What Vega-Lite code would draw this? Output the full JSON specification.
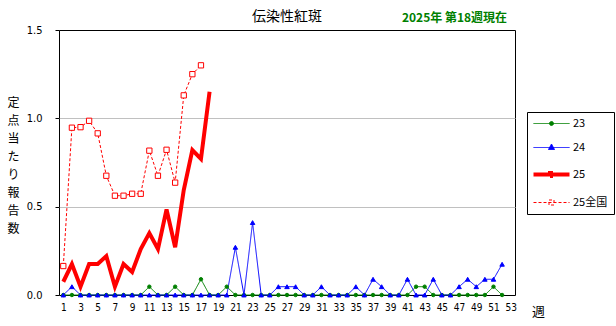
{
  "$schema": "https://vega.github.io/schema/vega-lite/v6.json",
  "width": 456,
  "height": 265,
  "autosize": {"type": "none"},
  "padding": {"left": 59, "top": 30, "right": 101, "bottom": 31},
  "background": "white",
  "title": {"text": "伝染性紅斑", "anchor": "middle", "font": "Noto Sans CJK JP", "fontSize": 14, "fontWeight": "normal", "color": "black", "offset": 7, "dy": 20},
  "data": {"values": [
    {"w": 1, "23": 0, "24": 0, "25": 0.075, "25全国": 0.164},
    {"w": 2, "23": 0, "24": 0.047, "25": 0.175, "25全国": 0.947},
    {"w": 3, "23": 0, "24": 0, "25": 0.047, "25全国": 0.95},
    {"w": 4, "23": 0, "24": 0, "25": 0.175, "25全国": 0.986},
    {"w": 5, "23": 0, "24": 0, "25": 0.175, "25全国": 0.915},
    {"w": 6, "23": 0, "24": 0, "25": 0.22, "25全国": 0.675},
    {"w": 7, "23": 0, "24": 0, "25": 0.047, "25全国": 0.562},
    {"w": 8, "23": 0, "24": 0, "25": 0.175, "25全国": 0.562},
    {"w": 9, "23": 0, "24": 0, "25": 0.13, "25全国": 0.573},
    {"w": 10, "23": 0, "24": 0, "25": 0.26, "25全国": 0.573},
    {"w": 11, "23": 0.047, "24": 0, "25": 0.35, "25全国": 0.817},
    {"w": 12, "23": 0, "24": 0, "25": 0.26, "25全国": 0.675},
    {"w": 13, "23": 0, "24": 0, "25": 0.485, "25全国": 0.822},
    {"w": 14, "23": 0.047, "24": 0, "25": 0.27, "25全国": 0.636},
    {"w": 15, "23": 0, "24": 0, "25": 0.594, "25全国": 1.13},
    {"w": 16, "23": 0, "24": 0, "25": 0.82, "25全国": 1.25},
    {"w": 17, "23": 0.089, "24": 0, "25": 0.77, "25全国": 1.30},
    {"w": 18, "23": 0, "24": 0, "25": 1.15},
    {"w": 19, "23": 0, "24": 0},
    {"w": 20, "23": 0.047, "24": 0},
    {"w": 21, "23": 0, "24": 0.27},
    {"w": 22, "23": 0, "24": 0},
    {"w": 23, "23": 0, "24": 0.41},
    {"w": 24, "23": 0, "24": 0},
    {"w": 25, "23": 0, "24": 0},
    {"w": 26, "23": 0, "24": 0.047},
    {"w": 27, "23": 0, "24": 0.047},
    {"w": 28, "23": 0, "24": 0.047},
    {"w": 29, "23": 0, "24": 0},
    {"w": 30, "23": 0, "24": 0},
    {"w": 31, "23": 0, "24": 0.047},
    {"w": 32, "23": 0, "24": 0},
    {"w": 33, "23": 0, "24": 0},
    {"w": 34, "23": 0, "24": 0},
    {"w": 35, "23": 0, "24": 0.047},
    {"w": 36, "23": 0, "24": 0},
    {"w": 37, "23": 0, "24": 0.089},
    {"w": 38, "23": 0, "24": 0.047},
    {"w": 39, "23": 0, "24": 0},
    {"w": 40, "23": 0, "24": 0},
    {"w": 41, "23": 0, "24": 0.089},
    {"w": 42, "23": 0.047, "24": 0},
    {"w": 43, "23": 0.047, "24": 0},
    {"w": 44, "23": 0, "24": 0.089},
    {"w": 45, "23": 0, "24": 0},
    {"w": 46, "23": 0, "24": 0},
    {"w": 47, "23": 0, "24": 0.047},
    {"w": 48, "23": 0, "24": 0.089},
    {"w": 49, "23": 0, "24": 0.047},
    {"w": 50, "23": 0, "24": 0.089},
    {"w": 51, "23": 0.047, "24": 0.089},
    {"w": 52, "23": 0, "24": 0.174}
  ]},
  "transform": [
    {"fold": ["23", "24", "25", "25全国"], "as": ["s", "v"]},
    {"filter": "isValid(datum.v)"}
  ],
  "resolve": {"axis": {"x": "independent"}},
  "layer": [
    {
      "transform": [{"filter": "datum.s !== '25'"}],
      "mark": {"type": "line", "strokeWidth": 1},
      "encoding": {
        "x": {
          "field": "w", "type": "quantitative",
          "scale": {"domain": [0.5, 53.5], "nice": false, "zero": false},
          "axis": {
            "orient": "bottom",
            "values": [1,3,5,7,9,11,13,15,17,19,21,23,25,27,29,31,33,35,37,39,41,43,45,47,49,51,53],
            "ticks": false, "domain": false, "grid": false,
            "labelPadding": 7, "labelFontSize": 10, "labelFont": "Liberation Sans Narrow, DejaVu Sans Condensed, Liberation Sans",
            "labelColor": "black", "labelFlush": false, "labelOverlap": false,
            "title": "週", "titleX": 479, "titleY": 16, "titleAlign": "center", "titleBaseline": "middle",
            "titleFontSize": 13, "titleFont": "Noto Sans CJK JP", "titleFontWeight": "normal", "titleColor": "black"
          }
        },
        "y": {
          "field": "v", "type": "quantitative",
          "scale": {"domain": [0, 1.5], "nice": false},
          "axis": {
            "orient": "left",
            "values": [0, 0.5, 1, 1.5], "format": ".1f",
            "domain": false, "ticks": true, "tickSize": 4, "tickColor": "black",
            "labelPadding": 13, "labelFontSize": 11, "labelFont": "Liberation Sans Narrow, DejaVu Sans Condensed, Liberation Sans",
            "labelColor": "black",
            "grid": true,
            "gridColor": {"condition": {"test": "datum.value === 0 || datum.value === 1.5", "value": "transparent"}, "value": "#c0c0c0"},
            "title": ["定", "点", "当", "た", "り", "報", "告", "数"],
            "titleAngle": 0, "titleX": -46, "titleY": 67, "titleAlign": "center", "titleBaseline": "top",
            "titleLineHeight": 18, "titleFontSize": 12, "titleFont": "Noto Sans CJK JP", "titleFontWeight": "normal", "titleColor": "black",
            "encode": {"title": {"update": {"lineHeight": {"value": 18}}}}
          }
        },
        "color": {
          "field": "s", "type": "nominal",
          "scale": {"domain": ["23", "24", "25", "25全国"], "range": ["#008000", "#0000ff", "#ff0000", "#ff0000"]},
          "legend": {
            "orient": "none", "legendX": 468, "legendY": 82, "title": null,
            "strokeColor": "black", "fillColor": "white", "padding": 6, "rowPadding": 12,
            "labelOffset": 29, "labelFontSize": 11, "labelFont": "Noto Sans CJK JP", "labelColor": "black",
            "symbolSize": 100,
            "encode": {
              "symbols": {
                "update": {
                  "size": {"value": 100},
                  "shape": {"signal": "datum.value === '23' ? 'M-1,0H6.2M2.2,0A0.4,0.4,0,1,1,3,0A0.4,0.4,0,1,1,2.2,0Z' : datum.value === '24' ? 'M-1,0H6.2M2.6,-0.7L3.2,0.4H2Z' : datum.value === '25' ? 'M-1,0H6.2M2.3,-0.3H2.9V0.3H2.3Z' : 'M-1,0H6.2M2.1,-0.5H3.1V0.5H2.1Z'"},
                  "stroke": {"signal": "datum.value === '23' ? '#008000' : datum.value === '24' ? '#0000ff' : '#ff0000'"},
                  "fill": {"signal": "datum.value === '23' ? '#008000' : datum.value === '24' ? '#0000ff' : datum.value === '25' ? '#ff0000' : '#ffffff'"},
                  "strokeWidth": {"signal": "datum.value === '25' ? 4 : 1"},
                  "strokeDash": {"signal": "datum.value === '25全国' ? [3, 2] : [1, 0]"},
                  "opacity": {"value": 1}
                }
              }
            }
          }
        },
        "strokeDash": {
          "field": "s", "type": "nominal",
          "scale": {"domain": ["23", "24", "25", "25全国"], "range": [[1, 0], [1, 0], [1, 0], [3, 2]]},
          "legend": null
        }
      }
    },
    {
      "transform": [{"filter": "datum.s === '25'"}],
      "mark": {"type": "line", "strokeWidth": 4, "strokeJoin": "miter"},
      "encoding": {
        "x": {"field": "w", "type": "quantitative", "axis": null},
        "y": {"field": "v", "type": "quantitative"},
        "color": {"field": "s", "type": "nominal"}
      }
    },
    {
      "transform": [{"filter": "datum.s !== '25'"}],
      "mark": {"type": "point", "strokeWidth": 1, "opacity": 1},
      "encoding": {
        "x": {
          "field": "w", "type": "quantitative",
          "axis": {
            "orient": "top", "domain": false, "ticks": false, "labels": false, "grid": false,
            "title": "2025年 第18週現在", "titleX": 395, "titleY": -13, "titleAlign": "center", "titleBaseline": "middle",
            "titleColor": "#008000", "titleFont": "Noto Sans CJK JP", "titleFontSize": 12, "titleFontWeight": "bold"
          }
        },
        "y": {"field": "v", "type": "quantitative"},
        "shape": {
          "field": "s", "type": "nominal",
          "scale": {"domain": ["23", "24", "25全国"], "range": ["circle", "triangle-up", "square"]},
          "legend": null
        },
        "fill": {
          "field": "s", "type": "nominal",
          "scale": {"domain": ["23", "24", "25全国"], "range": ["#008000", "#0000ff", "#ffffff"]},
          "legend": null
        },
        "stroke": {
          "field": "s", "type": "nominal",
          "scale": {"domain": ["23", "24", "25全国"], "range": ["#008000", "#0000ff", "#ff0000"]},
          "legend": null
        },
        "size": {
          "field": "s", "type": "nominal",
          "scale": {"domain": ["23", "24", "25全国"], "range": [12, 28, 20]},
          "legend": null
        }
      }
    }
  ],
  "config": {
    "view": {"stroke": "black", "strokeWidth": 1},
    "font": "Noto Sans CJK JP"
  }
}
